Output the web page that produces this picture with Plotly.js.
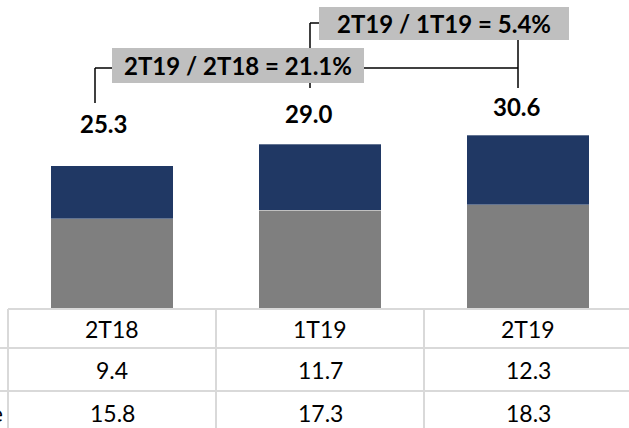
<!DOCTYPE html>
<html>
<head>
<meta charset="utf-8">
<script src="https://cdn.plot.ly/plotly-3.0.1.min.js"></script>
<style>html,body{margin:0;padding:0;background:#fff;}#chart{width:629px;height:428px;}</style>
</head>
<body>
<div id="chart"></div>
<script>
// ---- data ----
const categories = ['2T18', '1T19', '2T19'];
const topSeries = [9.4, 11.7, 12.3];      // navy segment (table row 2)
const bottomSeries = [15.8, 17.3, 18.3];  // gray segment (table row 3)
const totals = [25.3, 29.0, 30.6];
const growthLabels = ['2T19 / 2T18 = 21.1%', '2T19 / 1T19 = 5.4%'];
const rowLabels = ['', 'Receita Recorrente'];

// ---- styling / layout helpers ----
const W = 629, H = 428;
const NAVY = '#203864', GRAY = '#7f7f7f', BOX = '#bfbfbf', GRID = '#d9d9d9';
const FONT = 'Lato, Carlito, Calibri, "Liberation Sans", sans-serif';
// pixel -> axis coordinate helpers (axes are set so that category i is centred at 112 + 208*i px)
const X = px => (px - 112) / 208;
const yTopPx = 0, basePx = 308, pxPerUnit = 5.645;
const Y = py => (basePx - py) / pxPerUnit;
const P = py => (H - py) / H;  // paper y

const traces = [
  {type: 'bar', x: categories, y: bottomSeries, marker: {color: GRAY, line: {color: 'rgba(255,255,255,0.5)', width: 0.6}}, width: 0.59, hoverinfo: 'skip'},
  {type: 'bar', x: categories, y: topSeries, marker: {color: NAVY, line: {color: 'rgba(255,255,255,0.5)', width: 0.6}}, width: 0.59, hoverinfo: 'skip'}
];

const shapes = [];
const line = (xref, x0, x1, yref, y0, y1, color, w) => shapes.push({type: 'line', xref, yref, x0, x1, y0, y1, line: {color, width: w}, layer: 'above'});

// table grid
line('x', -0.5, X(W + 5), 'paper', P(309), P(309), GRID, 2);
line('paper', 0, 1, 'paper', P(348), P(348), GRID, 2);
line('paper', 0, 1, 'paper', P(391), P(391), GRID, 2);
[-0.5, 0.5, 1.5].forEach(v => line('x', v, v, 'paper', P(309), 0, GRID, 2));

// connectors
const lc = '#000', lw = 1.5;
line('x', X(95), X(95), 'y', Y(103), Y(68), lc, lw);
line('x', X(95), X(518), 'y', Y(68), Y(68), lc, lw);
line('x', X(518), X(518), 'y', Y(40), Y(88), lc, lw);
line('x', X(310), X(310), 'y', Y(88), Y(23), lc, lw);
line('x', X(310), X(320), 'y', Y(23), Y(23), lc, lw);

const annotations = [];
// total labels
const lblShiftX = [-9, -11.5, -11], lblShiftY = [42.5, 30.5, 29];
totals.forEach((t, i) => annotations.push({
  x: categories[i], y: bottomSeries[i] + topSeries[i], xref: 'x', yref: 'y', text: '<b>' + t.toFixed(1) + '</b>',
  showarrow: false, xanchor: 'center', yanchor: 'middle', xshift: lblShiftX[i], yshift: lblShiftY[i],
  font: {family: FONT, size: 24, color: '#000'}
}));
// growth boxes
const boxes = [{cx: 238, cy: 65.5, w: 252, h: 35}, {cx: 444, cy: 23.5, w: 250, h: 33}];
growthLabels.forEach((t, i) => annotations.push({
  x: X(boxes[i].cx), y: Y(boxes[i].cy), xref: 'x', yref: 'y', text: '<b>' + t + '</b>',
  showarrow: false, xanchor: 'center', yanchor: 'middle', width: boxes[i].w, height: boxes[i].h,
  bgcolor: BOX, borderpad: 0, borderwidth: 0, align: 'center', valign: 'middle',
  font: {family: FONT, size: 24, color: '#000'}
}));
// table text
const rowY = [P(328.5), P(370), P(413)];
const cell = (x, y, text) => annotations.push({x, y, xref: 'x', yref: 'paper', text, showarrow: false,
  xanchor: 'center', yanchor: 'middle', font: {family: FONT, size: 23, color: '#000'}});
categories.forEach((c, i) => {
  cell(c, rowY[0], c);
  cell(c, rowY[1], topSeries[i].toFixed(1));
  cell(c, rowY[2], bottomSeries[i].toFixed(1));
});
rowLabels.forEach((r, i) => annotations.push({
  x: 5 / W, y: rowY[i + 1], xref: 'paper', yref: 'paper', text: r, showarrow: false, xanchor: 'right', yanchor: 'middle',
  font: {family: FONT, size: 23, color: '#000'}
}));

const layout = {
  width: W, height: H,
  margin: {l: 0, r: 0, t: 0, b: 0, pad: 0},
  paper_bgcolor: '#fff', plot_bgcolor: '#fff',
  barmode: 'stack', showlegend: false,
  xaxis: {type: 'category', range: [X(0), X(W)], visible: false, fixedrange: true},
  yaxis: {domain: [P(basePx), 1], range: [0, Y(yTopPx)], visible: false, fixedrange: true},
  shapes, annotations
};

Plotly.newPlot('chart', traces, layout, {displayModeBar: false, staticPlot: true});
</script>
</body>
</html>
